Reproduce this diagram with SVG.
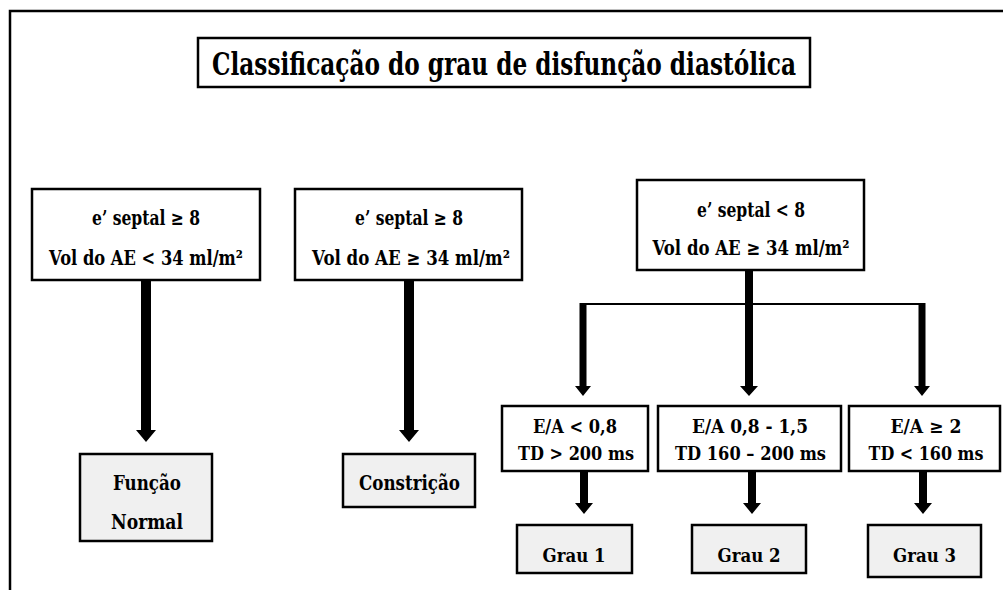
<svg xmlns="http://www.w3.org/2000/svg" width="1003" height="590" viewBox="0 0 1003 590">
<style>
.box{fill:#fff;stroke:#000;stroke-width:2.5}
.res{fill:#f0f0f0;stroke:#000;stroke-width:2.5}
.t{font-family:'DejaVu Serif','Liberation Serif',serif;font-weight:bold;fill:#000;text-anchor:middle}
.s20{font-size:20px}
.s19{font-size:19px}
.s18{font-size:18px}
.ah{fill:#000;stroke:none}
</style>
<rect x="0" y="0" width="1003" height="590" fill="#fff"/>
<rect x="10" y="11" width="1010" height="600" fill="none" stroke="#000" stroke-width="2.5"/>

<g id="title">
<rect class="box" x="198" y="38" width="612" height="49"/>
<text class="t" x="504" y="75" font-size="31" textLength="584" lengthAdjust="spacingAndGlyphs">Classificação do grau de disfunção diastólica</text>
</g>

<g id="connectors">
<path class="ah" d="M141,280 H151 V430 H156 L146,442 L136,430 H141 Z"/>
<path class="ah" d="M404,280 H414 V430 H419 L409,442 L399,430 H404 Z"/>
<path class="ah" d="M745,270 H753 V386 H758 L749,396 L740,386 H745 Z"/>
<line x1="583" y1="304" x2="922" y2="304" stroke="#000" stroke-width="2"/>
<path class="ah" d="M579.5,303 H586.5 V386 H591 L583,396 L575,386 H579.5 Z"/>
<path class="ah" d="M918.5,303 H925.5 V386 H930 L922,396 L914,386 H918.5 Z"/>
<path class="ah" d="M580,471 H588 V503 H593 L584,514 L575,503 H580 Z"/>
<path class="ah" d="M748,471 H756 V503 H761 L752,514 L743,503 H748 Z"/>
<path class="ah" d="M919,471 H927 V503 H932 L923,514 L914,503 H919 Z"/>
</g>

<g id="node-normal-criteria">
<rect class="box" x="32" y="189" width="228" height="91"/>
<text class="t s20" x="146" y="225" textLength="108" lengthAdjust="spacingAndGlyphs">e’ septal ≥ 8</text>
<text class="t s20" x="146" y="265" textLength="194" lengthAdjust="spacingAndGlyphs">Vol do AE &lt; 34 ml/m²</text>
</g>

<g id="node-constriction-criteria">
<rect class="box" x="295" y="189" width="227" height="91"/>
<text class="t s20" x="409" y="225" textLength="108" lengthAdjust="spacingAndGlyphs">e’ septal ≥ 8</text>
<text class="t s20" x="411" y="265" textLength="198" lengthAdjust="spacingAndGlyphs">Vol do AE ≥ 34 ml/m²</text>
</g>

<g id="node-dysfunction-criteria">
<rect class="box" x="637" y="180" width="227" height="90"/>
<text class="t s20" x="751" y="217" textLength="108" lengthAdjust="spacingAndGlyphs">e’ septal &lt; 8</text>
<text class="t s20" x="751" y="255" textLength="197" lengthAdjust="spacingAndGlyphs">Vol do AE ≥ 34 ml/m²</text>
</g>

<g id="node-funcao-normal">
<rect class="res" x="80" y="454" width="132" height="87"/>
<text class="t s20" x="147" y="490" textLength="68" lengthAdjust="spacingAndGlyphs">Função</text>
<text class="t s20" x="147" y="529" textLength="72" lengthAdjust="spacingAndGlyphs">Normal</text>
</g>

<g id="node-constricao">
<rect class="res" x="343" y="454" width="132" height="53"/>
<text class="t s20" x="409.5" y="490" textLength="101" lengthAdjust="spacingAndGlyphs">Constrição</text>
</g>

<g id="node-ea-low">
<rect class="box" x="502" y="406" width="146" height="65"/>
<text class="t s19" x="575" y="433" textLength="84" lengthAdjust="spacingAndGlyphs">E/A &lt; 0,8</text>
<text class="t s19" x="576" y="460" textLength="116" lengthAdjust="spacingAndGlyphs">TD &gt; 200 ms</text>
</g>

<g id="node-ea-mid">
<rect class="box" x="658" y="406" width="183" height="65"/>
<text class="t s19" x="750" y="433" textLength="116" lengthAdjust="spacingAndGlyphs">E/A  0,8 - 1,5</text>
<text class="t s19" x="750.5" y="460" textLength="151" lengthAdjust="spacingAndGlyphs">TD 160 – 200 ms</text>
</g>

<g id="node-ea-high">
<rect class="box" x="849" y="406" width="151" height="65"/>
<text class="t s18" x="926" y="433" textLength="71" lengthAdjust="spacingAndGlyphs">E/A  ≥ 2</text>
<text class="t s18" x="926" y="460" textLength="115" lengthAdjust="spacingAndGlyphs">TD &lt; 160 ms</text>
</g>

<g id="node-grau1">
<rect class="res" x="517" y="525" width="115" height="48"/>
<text class="t s19" x="574" y="562" textLength="63" lengthAdjust="spacingAndGlyphs">Grau 1</text>
</g>

<g id="node-grau2">
<rect class="res" x="692" y="525" width="114" height="48"/>
<text class="t s19" x="749" y="562" textLength="63" lengthAdjust="spacingAndGlyphs">Grau 2</text>
</g>

<g id="node-grau3">
<rect class="res" x="868" y="525" width="113" height="52"/>
<text class="t s19" x="924.5" y="562" textLength="63" lengthAdjust="spacingAndGlyphs">Grau 3</text>
</g>
</svg>
